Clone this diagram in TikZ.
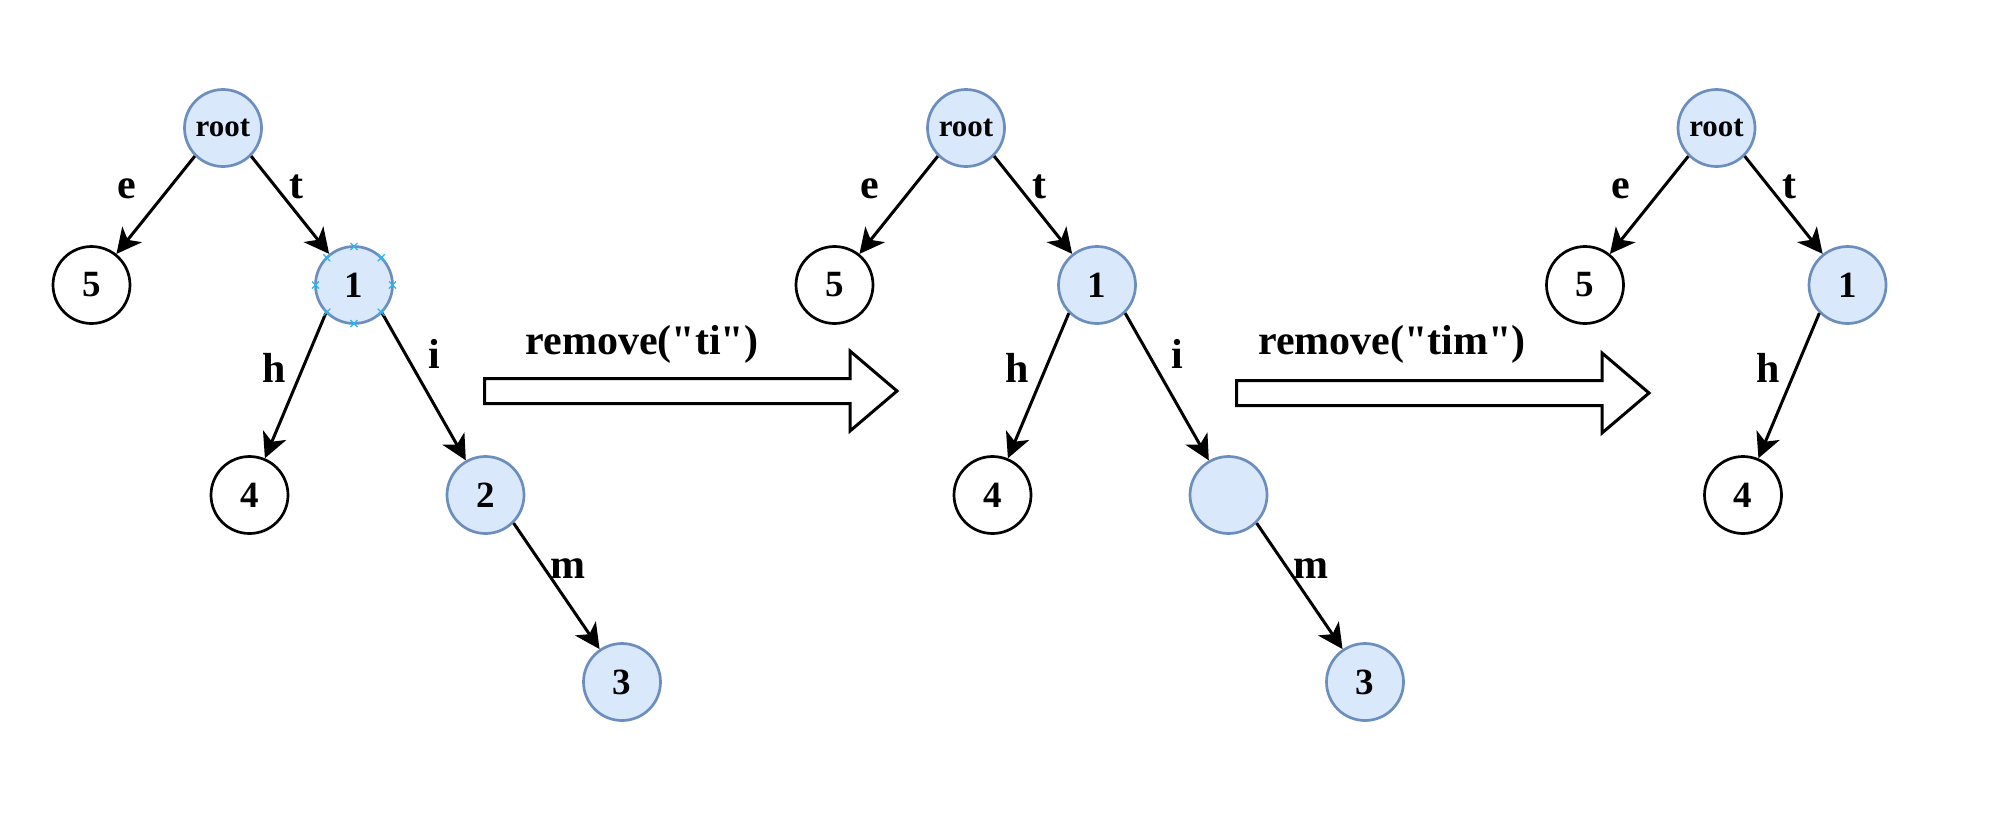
\documentclass[tikz,border=0pt]{standalone}
\usepackage{fontspec}
\setmainfont{Liberation Serif}
\newfontfamily\opfont{Liberation Serif}
\usetikzlibrary{arrows.meta}
\definecolor{nodefill}{HTML}{DAE8FC}
\definecolor{nodeline}{HTML}{6C8EBF}
\definecolor{markerblue}{HTML}{29B6F2}
\begin{document}
\begin{tikzpicture}[x=1pt,y=-1pt,
  trienode/.style={circle, draw=nodeline, fill=nodefill, line width=2.7pt, minimum size=77pt, inner sep=0pt, font=\bfseries\fontsize{37}{40}\selectfont},
  leafnode/.style={circle, draw=black, fill=white, line width=2.7pt, minimum size=77pt, inner sep=0pt, font=\bfseries\fontsize{37}{40}\selectfont},
  rootnode/.style={trienode, font=\bfseries\fontsize{31}{34}\selectfont},
  edge/.style={line width=3pt, -{Stealth[length=25pt,width=25pt,inset=7pt]}},
  elabel/.style={anchor=base, inner sep=0pt, font=\bfseries\fontsize{42}{44}\selectfont},
  oplabel/.style={anchor=base, inner sep=0pt, font=\opfont\bfseries\fontsize{42}{44}\selectfont},
  bigarrow/.style={line width=3pt, draw=black, fill=white, line join=miter},
  xmark/.style={draw=markerblue, line width=1.3pt},
]
\useasboundingbox (0,0) rectangle (2015,828);

% ---------- tree 1 ----------
\node[rootnode] (r1) at (223,128) {root};
\node[leafnode] (a5) at (91.5,285) {5};
\node[trienode] (a1) at (354,285) {1};
\node[leafnode] (a4) at (249.5,495) {4};
\node[trienode] (a2) at (485.5,495) {2};
\node[trienode] (a3) at (622,682) {3};
\draw[edge] (r1.-135) -- (a5);
\draw[edge] (r1.-45) -- (a1);
\draw[edge] (a1.-135) -- (a4);
\draw[edge] (a1.-45) -- (a2);
\draw[edge] (a2.-45) -- (a3);
\node[elabel] (le1) at (127,198) {e};
\node[elabel] (lt1) at (296,198) {t};
\node[elabel] (lh1) at (274,382) {h};
\node[elabel] (li1) at (434,368) {i};
\node[elabel] (lm1) at (568,578) {m};
\foreach \a in {0,45,...,315}{
  \draw[xmark] (a1.center) ++(\a:38.5) ++(-3.5,-3.5) -- ++(7,7) ++(-7,0) -- ++(7,-7);
}

% ---------- arrow 1 ----------
\draw[bigarrow] (484.5,378.5) -- (850,378.5) -- (850,351) -- (897,391) -- (850,431) -- (850,403.5) -- (484.5,403.5) -- cycle;
\node[oplabel] (op1) at (642,354) {remove("ti")};

% ---------- tree 2 ----------
\node[rootnode] (r2) at (966,128) {root};
\node[leafnode] (b5) at (834.5,285) {5};
\node[trienode] (b1) at (1097,285) {1};
\node[leafnode] (b4) at (992.5,495) {4};
\node[trienode] (b2) at (1228.5,495) {};
\node[trienode] (b3) at (1365,682) {3};
\draw[edge] (r2.-135) -- (b5);
\draw[edge] (r2.-45) -- (b1);
\draw[edge] (b1.-135) -- (b4);
\draw[edge] (b1.-45) -- (b2);
\draw[edge] (b2.-45) -- (b3);
\node[elabel] (le2) at (870,198) {e};
\node[elabel] (lt2) at (1039,198) {t};
\node[elabel] (lh2) at (1017,382) {h};
\node[elabel] (li2) at (1177,368) {i};
\node[elabel] (lm2) at (1311,578) {m};

% ---------- arrow 2 ----------
\draw[bigarrow] (1236.5,380.5) -- (1602,380.5) -- (1602,353) -- (1649,393) -- (1602,433) -- (1602,405.5) -- (1236.5,405.5) -- cycle;
\node[oplabel] (op2) at (1392,354) {remove("tim")};

% ---------- tree 3 ----------
\node[rootnode] (r3) at (1716.5,128) {root};
\node[leafnode] (c5) at (1585,285) {5};
\node[trienode] (c1) at (1847.5,285) {1};
\node[leafnode] (c4) at (1743,495) {4};
\draw[edge] (r3.-135) -- (c5);
\draw[edge] (r3.-45) -- (c1);
\draw[edge] (c1.-135) -- (c4);
\node[elabel] (le3) at (1621,198) {e};
\node[elabel] (lt3) at (1789,198) {t};
\node[elabel] (lh3) at (1768,382) {h};
\end{tikzpicture}
\end{document}
